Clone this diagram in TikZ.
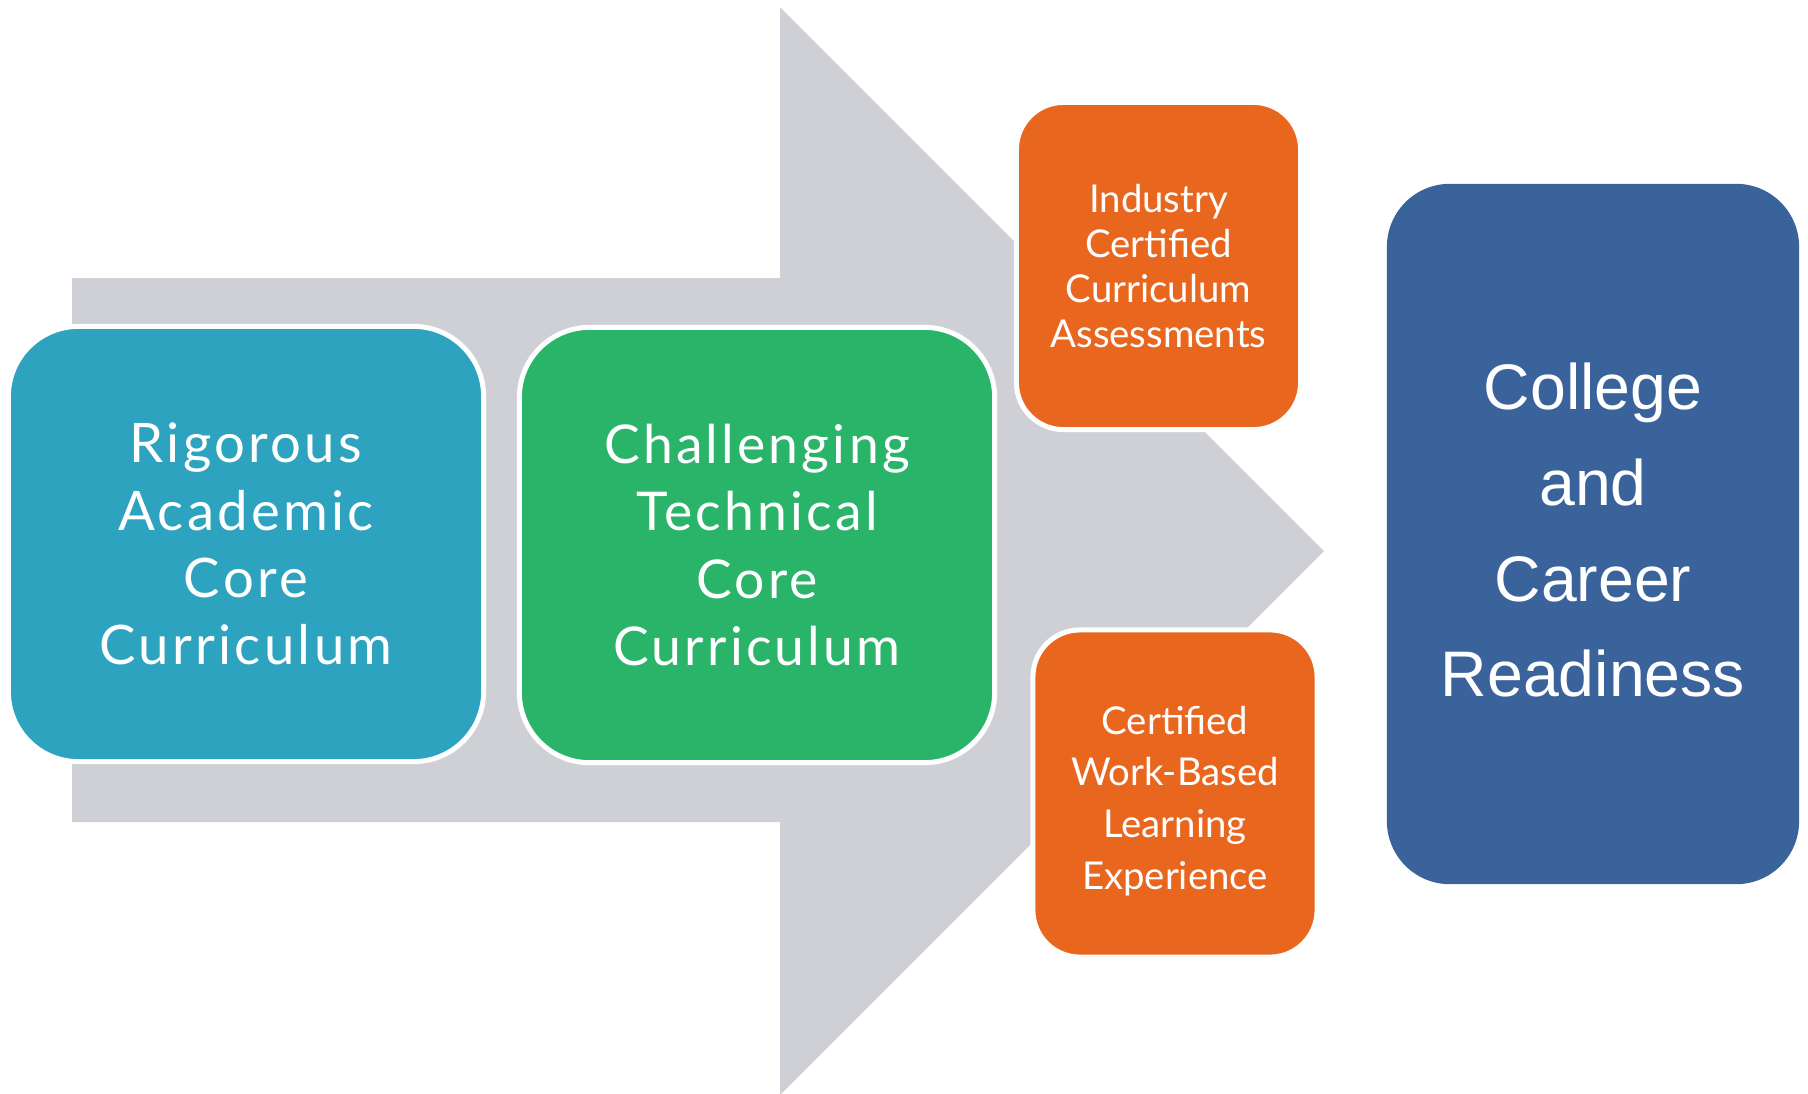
\documentclass[tikz,border=0pt]{standalone}
\usepackage{fontspec}
\setmainfont{Lato}
\newfontfamily\widefont[LetterSpace=6]{Lato}
\newfontfamily\arialfont{Liberation Sans}
\definecolor{arrowgray}{HTML}{CFD0D5}
\definecolor{coreblue}{HTML}{2DA3BF}
\definecolor{coregreen}{HTML}{2AB46A}
\definecolor{certorange}{HTML}{E9661F}
\definecolor{readyblue}{HTML}{3A639B}
\tikzset{
  stage/.style={rectangle, rounded corners=0.7cm, draw=white, line width=0.05cm,
    text=white, align=center, inner sep=0pt,
    minimum width=4.75cm, minimum height=4.35cm,
    font=\widefont\fontsize{15.5}{19.1}\selectfont},
  cert/.style={stage, rounded corners=0.47cm,
    minimum width=2.84cm, minimum height=3.27cm,
    font=\fontsize{10.9}{12.8}\selectfont},
}
\begin{document}
\begin{tikzpicture}[x=0.01cm, y=-0.01cm]
    \useasboundingbox (0,0) rectangle (1808,1093);
    % big gray arrow behind the boxes
    \fill[arrowgray] (72,278) -- (780,278) -- (780,7) -- (1324,551)
        -- (780,1095) -- (780,822) -- (72,822) -- cycle;
    % the two core curricula
    \node[stage, fill=coreblue] (academic) at (246,544)
        {Rigorous\\Academic\\Core\\Curriculum};
    \node[stage, fill=coregreen, font=\widefont\fontsize{15.2}{19.1}\selectfont]
        (technical) at (757,545)
        {Challenging\\Technical\\Core\\Curriculum};
    % certifications
    \node[cert, fill=certorange] (industry) at (1158.5,266)
        {Industry\\Certified\\Curriculum\\Assessments};
    \node[cert, fill=certorange, font=\fontsize{10.9}{14.7}\selectfont]
        (workbased) at (1175,793.5)
        {\rule{0pt}{0.43cm}Certified\\Work-Based\\Learning\\Experience};
    % goal
    \node[rectangle, rounded corners=0.63cm, fill=readyblue, text=white, align=center,
        minimum width=4.12cm, minimum height=7cm, inner sep=0pt,
        font=\arialfont\fontsize{18.3}{27.2}\selectfont] (readiness) at (1593,534)
        {College\\and\\Career\\Readiness\rule[-0.08cm]{0pt}{0pt}};
\end{tikzpicture}
\end{document}
